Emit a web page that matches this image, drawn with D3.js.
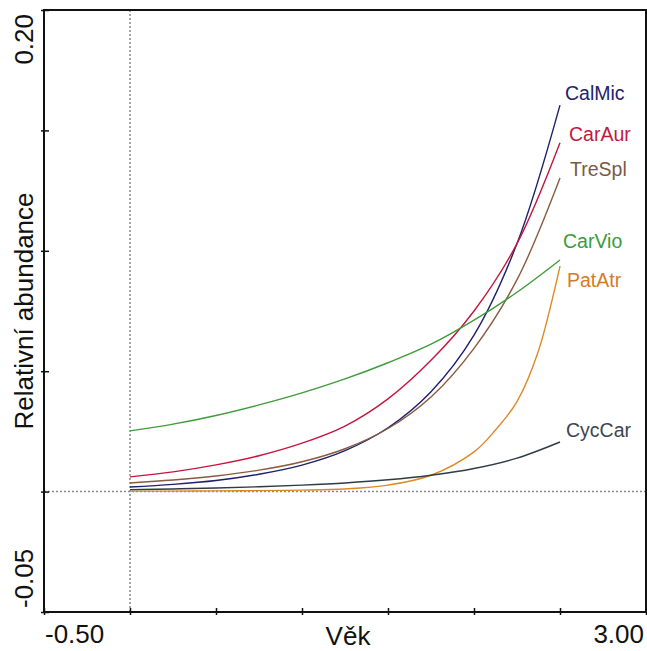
<!DOCTYPE html>
<html>
<head>
<meta charset="utf-8">
<script src="https://cdn.jsdelivr.net/npm/d3@7"></script>
<style>
  body { margin: 0; background: #fff; }
  text { font-family: "Liberation Sans", Arial, sans-serif; }
</style>
</head>
<body>
<div id="drawing_region"></div>
<script>
// vek (x) values where the curves were read
var ages = [0, 0.25, 0.5, 0.75, 1.0, 1.25, 1.5, 1.75, 2.0, 2.25, 2.5];
// PatAtr rises steeply at the end, so it was read more densely there
var agesPatAtr = [0, 0.25, 0.5, 0.75, 1.0, 1.25, 1.5, 1.75, 2.0, 2.125, 2.25, 2.375, 2.5];

var species = ["CalMic", "CarAur", "TreSpl", "CarVio", "PatAtr", "CycCar"];
var calMic = [0.0019, 0.0030, 0.0046, 0.0072, 0.0110, 0.0170, 0.0265, 0.0415, 0.0650, 0.1030, 0.1605];
var carAur = [0.0061, 0.0082, 0.0111, 0.0149, 0.0201, 0.0272, 0.0385, 0.0545, 0.0750, 0.1030, 0.1449];
var treSpl = [0.0036, 0.0048, 0.0065, 0.0089, 0.0124, 0.0178, 0.0262, 0.0393, 0.0595, 0.0880, 0.1302];
var carVio = [0.0252, 0.0280, 0.0316, 0.0360, 0.0410, 0.0468, 0.0535, 0.0612, 0.0712, 0.0828, 0.0962];
var patAtr = [0.0002, 0.0002, 0.0003, 0.0004, 0.0006, 0.0011, 0.0027, 0.0068, 0.0165, 0.0256, 0.0374, 0.0585, 0.0937];
var cycCar = [0.0008, 0.0011, 0.0015, 0.0020, 0.0027, 0.0036, 0.0049, 0.0068, 0.0096, 0.0139, 0.0206];

var xTicks = [-0.5, 0, 0.5, 1.0, 1.5, 2.0, 2.5, 3.0];
var yTicks = [-0.05, 0, 0.05, 0.10, 0.15, 0.20];

var series = [
    d3.zip(ages, calMic),
    d3.zip(ages, carAur),
    d3.zip(ages, treSpl),
    d3.zip(ages, carVio),
    d3.zip(agesPatAtr, patAtr),
    d3.zip(ages, cycCar)
];
var lineColors = ["#1f1f6b", "#c4163e", "#8a5a3e", "#3f9c3a", "#dc8a26", "#2f3b45"];
var textColors = ["#22226e", "#c01a40", "#7a5a46", "#3c9a3c", "#d67a2a", "#3b4650"];
// label offsets from the end of each curve
var labelDx = [5, 9, 10, 3, 7, 6];
var labelDy = [-5, -2, -2, -12, 21, -5];

var width = 647, height = 651;
var margin = {top: 10, right: 1, bottom: 39, left: 44};

var svg = d3.select("#drawing_region")
    .append("svg")
    .attr("width", width)
    .attr("height", height);

var xScale = d3.scaleLinear()
    .domain([-0.5, 3.0])
    .range([margin.left, width - margin.right]);

var yScale = d3.scaleLinear()
    .domain([-0.05, 0.20])
    .range([height - margin.bottom, margin.top]);

// dotted zero lines
svg.append("line")
    .attr("x1", xScale(0)).attr("x2", xScale(0))
    .attr("y1", yScale(0.20)).attr("y2", yScale(-0.05))
    .attr("stroke", "#8a8a8a").attr("stroke-width", 1.5)
    .attr("stroke-dasharray", "2,2");
svg.append("line")
    .attr("x1", xScale(-0.5)).attr("x2", xScale(3.0))
    .attr("y1", yScale(0)).attr("y2", yScale(0))
    .attr("stroke", "#8a8a8a").attr("stroke-width", 1.5)
    .attr("stroke-dasharray", "2,2");

// curves
var line = d3.line()
    .x(function (d) { return xScale(d[0]); })
    .y(function (d) { return yScale(d[1]); })
    .curve(d3.curveCatmullRom.alpha(0.5));

series.forEach(function (pts, k) {
    svg.append("path")
        .attr("d", line(pts))
        .attr("fill", "none")
        .attr("stroke", lineColors[k])
        .attr("stroke-width", 1.4);
});

// labels at the ends
series.forEach(function (pts, k) {
    var last = pts[pts.length - 1];
    svg.append("text")
        .attr("x", xScale(last[0]) + labelDx[k])
        .attr("y", yScale(last[1]) + labelDy[k])
        .attr("fill", textColors[k])
        .attr("font-size", "19.5px")
        .text(species[k]);
});

// frame
svg.append("rect")
    .attr("x", xScale(-0.5)).attr("y", yScale(0.20))
    .attr("width", xScale(3.0) - xScale(-0.5))
    .attr("height", yScale(-0.05) - yScale(0.20))
    .attr("fill", "none")
    .attr("stroke", "#111").attr("stroke-width", 2);

// axes (ticks cross the line)
var xAxis = svg.append("g")
    .attr("transform", "translate(0," + (yScale(-0.05) + 3) + ")")
    .call(d3.axisBottom(xScale).tickValues(xTicks).tickSize(-7).tickFormat(""));
xAxis.select(".domain").remove();
xAxis.selectAll("line").attr("stroke", "#111").attr("stroke-width", 1.5);

var yAxis = svg.append("g")
    .attr("transform", "translate(" + (xScale(-0.5) - 3) + ",0)")
    .call(d3.axisLeft(yScale).tickValues(yTicks).tickSize(-8).tickFormat(""));
yAxis.select(".domain").remove();
yAxis.selectAll("line").attr("stroke", "#111").attr("stroke-width", 1.5);

// end tick labels (plain hyphen as minus)
var fmt = d3.formatLocale({decimal: ".", thousands: ",", grouping: [3], currency: ["", ""], minus: "-"}).format(".2f");
svg.append("text")
    .attr("x", xScale(-0.5) + 1).attr("y", 643)
    .attr("font-size", "26px").attr("fill", "#111")
    .text(fmt(xTicks[0]));
svg.append("text")
    .attr("x", xScale(3.0) - 2).attr("y", 643)
    .attr("text-anchor", "end")
    .attr("font-size", "26px").attr("fill", "#111")
    .text(fmt(xTicks[xTicks.length - 1]));
svg.append("text")
    .attr("transform", "translate(33," + (yScale(0.20) + 4) + ") rotate(-90)")
    .attr("text-anchor", "end")
    .attr("font-size", "26px").attr("fill", "#111")
    .text(fmt(yTicks[yTicks.length - 1]));
svg.append("text")
    .attr("transform", "translate(33," + (yScale(-0.05) - 4) + ") rotate(-90)")
    .attr("font-size", "26px").attr("fill", "#111")
    .text(fmt(yTicks[0]));

// axis titles
svg.append("text")
    .attr("x", 348).attr("y", 645)
    .attr("text-anchor", "middle")
    .attr("font-size", "26px").attr("fill", "#111")
    .text("Věk");
svg.append("text")
    .attr("transform", "translate(33,311) rotate(-90)")
    .attr("text-anchor", "middle")
    .attr("font-size", "26px").attr("fill", "#111")
    .text("Relativní abundance");
</script>
</body>
</html>
